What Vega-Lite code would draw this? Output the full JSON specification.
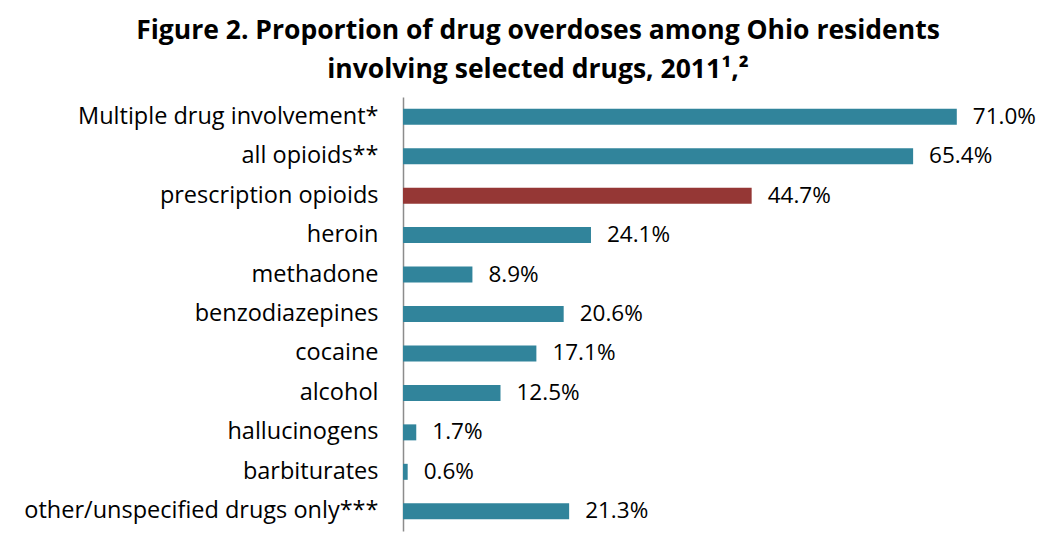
{
  "$schema": "https://vega.github.io/schema/vega-lite/v6.json",
  "autosize": {"type": "none"},
  "padding": {"left": 403, "top": 97, "right": 15, "bottom": 21},
  "width": 624,
  "height": 434,
  "background": "white",
  "title": {
    "text": ["Figure 2. Proportion of drug overdoses among Ohio residents", "involving selected drugs, 2011¹,²"],
    "anchor": "middle",
    "dx": -177,
    "offset": 14,
    "fontSize": 26.5,
    "fontWeight": "bold",
    "font": "Open Sans",
    "lineHeight": 39,
    "color": "black"
  },
  "config": {"view": {"stroke": null}},
  "data": {
    "values": [
      {"drug": "Multiple drug involvement*", "pct": 71.0, "label": "71.0%", "group": "other"},
      {"drug": "all opioids**", "pct": 65.4, "label": "65.4%", "group": "other"},
      {"drug": "prescription opioids", "pct": 44.7, "label": "44.7%", "group": "rx"},
      {"drug": "heroin", "pct": 24.1, "label": "24.1%", "group": "other"},
      {"drug": "methadone", "pct": 8.9, "label": "8.9%", "group": "other"},
      {"drug": "benzodiazepines", "pct": 20.6, "label": "20.6%", "group": "other"},
      {"drug": "cocaine", "pct": 17.1, "label": "17.1%", "group": "other"},
      {"drug": "alcohol", "pct": 12.5, "label": "12.5%", "group": "other"},
      {"drug": "hallucinogens", "pct": 1.7, "label": "1.7%", "group": "other"},
      {"drug": "barbiturates", "pct": 0.6, "label": "0.6%", "group": "other"},
      {"drug": "other/unspecified drugs only***", "pct": 21.3, "label": "21.3%", "group": "other"}
    ]
  },
  "encoding": {
    "y": {
      "field": "drug",
      "type": "nominal",
      "sort": null,
      "axis": {
        "title": null,
        "ticks": false,
        "labelFontSize": 23.5,
        "labelFont": "Open Sans",
        "labelColor": "black",
        "labelPadding": 25,
        "domainColor": "#8c8c8c",
        "domainWidth": 1.5,
        "labelLimit": 420
      }
    },
    "x": {
      "field": "pct",
      "type": "quantitative",
      "scale": {"domain": [0, 80], "nice": false},
      "axis": null
    }
  },
  "layer": [
    {
      "mark": {"type": "bar", "size": 16},
      "encoding": {
        "color": {
          "field": "group",
          "type": "nominal",
          "scale": {"domain": ["other", "rx"], "range": ["#31849B", "#953735"]},
          "legend": null
        }
      }
    },
    {
      "mark": {"type": "text", "align": "left", "dx": 16, "fontSize": 22.5, "font": "Open Sans", "color": "black"},
      "encoding": {
        "text": {"field": "label", "type": "nominal"}
      }
    }
  ]
}
